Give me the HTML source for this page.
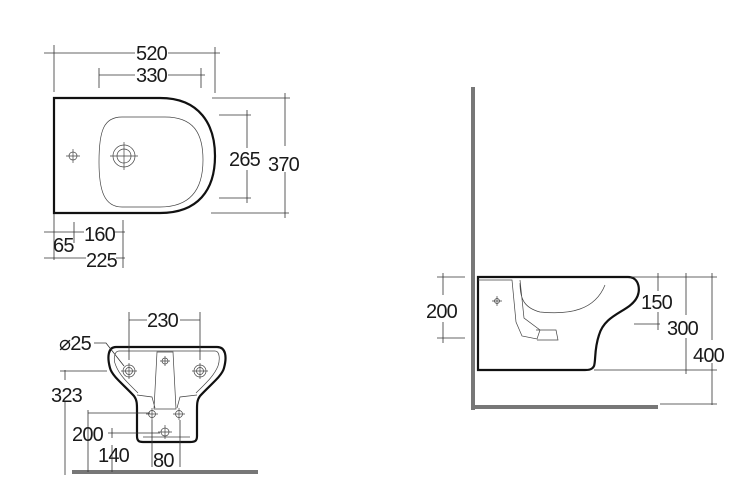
<!DOCTYPE html>
<html><head><meta charset="utf-8"><style>
html,body{margin:0;padding:0;background:#fff;}
svg{display:block;}
text{font-family:"Liberation Sans",sans-serif;font-size:20px;fill:#1a1a1a;letter-spacing:-0.8px;}
.d{stroke:#333;stroke-width:0.8;fill:none;}
.o{stroke:#111;stroke-width:2.2;fill:#fff;}
.t{stroke:#444;stroke-width:0.7;fill:none;}
</style></head><body>
<svg width="750" height="500" viewBox="0 0 750 500">
<!-- TOP VIEW -->
<path class="o" d="M54,98 L160,98 C200,98 215,125 215,156 C215,190 198,213 160,213 L54,213 Z"/>
<path class="t" d="M122,117 L165,117 C195,117 203,135 203,160 C203,190 190,207 160,207 L122,207 C104,207 99,190 99,162 C99,130 104,117 122,117 Z"/>
<circle class="t" cx="73" cy="156" r="4"/><path class="t" d="M66,156h14M73,149v14"/>
<circle class="t" cx="124" cy="156" r="11"/><circle class="t" cx="124" cy="156" r="7"/><path class="t" d="M110,156h28M124,142v28"/>
<path class="d" d="M44,53h91M168,53h52M54,45v47M215,47v46"/><text x="136" y="60">520</text>
<path class="d" d="M99,75h36M168,75h37M99,68v20M201,68v20"/><text x="136" y="82">330</text>
<path class="d" d="M219,115h32M219,198h32M247,110v38M247,170v33"/><text x="229" y="166">265</text>
<path class="d" d="M212,98h78M211,213h78M285,93v53M285,172v46"/><text x="268" y="171">370</text>
<path class="d" d="M44,232h40M114,232h11M54,214v46M74,222v21M123,220v48M44,258h42M116,258h9"/><text x="53" y="252">65</text><text x="84" y="241">160</text><text x="86" y="267">225</text>
<!-- FRONT VIEW -->
<rect x="72" y="470" width="186" height="4" fill="#777"/>
<path class="o" d="M116,347 L217,347 C226,347 227,357 224,368 C222,376 210,385 200,396 C197,400 197,404 197,410 L197,436 C197,441 195,442 190,442 L143,442 C139,442 137,441 137,436 L137,410 C137,404 137,400 134,396 C124,385 112,376 110,368 C107,357 108,347 116,347 Z"/>
<path class="t" d="M119,351 L215,351 C220,351 220,360 218,366 C214,376 205,384 196,393 M119,351 C114,351 113,360 116,366 C120,376 129,384 138,393 M137,395 L152,397 L155,408 M197,395 L180,397 L177,408 M157,352 L173,352 L176,409 L154,409 Z M143,437 L190,437"/>
<circle class="t" cx="129" cy="371" r="6"/><circle class="t" cx="129" cy="371" r="3.5"/><path class="t" d="M121,371h16M129,363v16"/>
<circle class="t" cx="200" cy="371" r="6"/><circle class="t" cx="200" cy="371" r="3.5"/><path class="t" d="M192,371h16M200,363v16"/>
<circle class="t" cx="165" cy="361" r="3"/><path class="t" d="M160,361h10M165,356v10"/>
<circle class="t" cx="152" cy="414" r="3.5"/><path class="t" d="M146,414h12M152,408v12"/>
<circle class="t" cx="179" cy="414" r="3.5"/><path class="t" d="M173,414h12M179,408v12"/>
<circle class="t" cx="165" cy="432" r="4"/><path class="t" d="M158,432h14M165,425v14"/>
<path class="d" d="M129,320h18M180,320h20M129,312v48M200,312v48"/><text x="147" y="327">230</text>
<path class="d" d="M94,343h12L124,366"/><text x="59" y="350">⌀25</text>
<path class="d" d="M60,371h47M65,370v10M65,402v73"/><text x="51" y="402">323</text>
<path class="d" d="M88,413h62M88,410v62"/>
<path class="d" d="M108,433h52M112,428v10M112,445v27"/><text x="72" y="441">200</text><text x="98" y="462">140</text>
<path class="d" d="M152,420v47M180,420v47"/><text x="153" y="467">80</text>
<!-- SIDE VIEW -->
<rect x="471" y="87" width="4" height="323" fill="#777"/>
<rect x="471" y="405" width="187" height="4" fill="#777"/>
<path class="o" d="M478,277 L628,277 C640,277 641,292 636,299 C628,312 605,314 599,335 C594,350 596,360 594,366 C592,370 588,370 585,370 L478,370 Z"/>
<path class="t" d="M478,280 L512,280 L516,322 L522,336 L537,339 L540,330 L524,318 L520,280 M520,283 C520,300 525,308 540,312 C570,315 595,310 605,285 M536,330 L556,330 L558,340 L537,340"/>
<circle class="t" cx="497" cy="301" r="2.5"/><path class="t" d="M492,301h10M497,296v10"/>
<path class="d" d="M437,277h28M437,338h28M443,273v22M443,322v21"/><text x="426" y="318">200</text>
<path class="d" d="M630,277h87M594,370h123M660,404h57M658,273v18M658,312v18M634,324h26M686,273v42M686,338v36M712,273v67M712,363v42"/><text x="641" y="309">150</text><text x="667" y="335">300</text><text x="693" y="362">400</text>
</svg>
</body></html>
